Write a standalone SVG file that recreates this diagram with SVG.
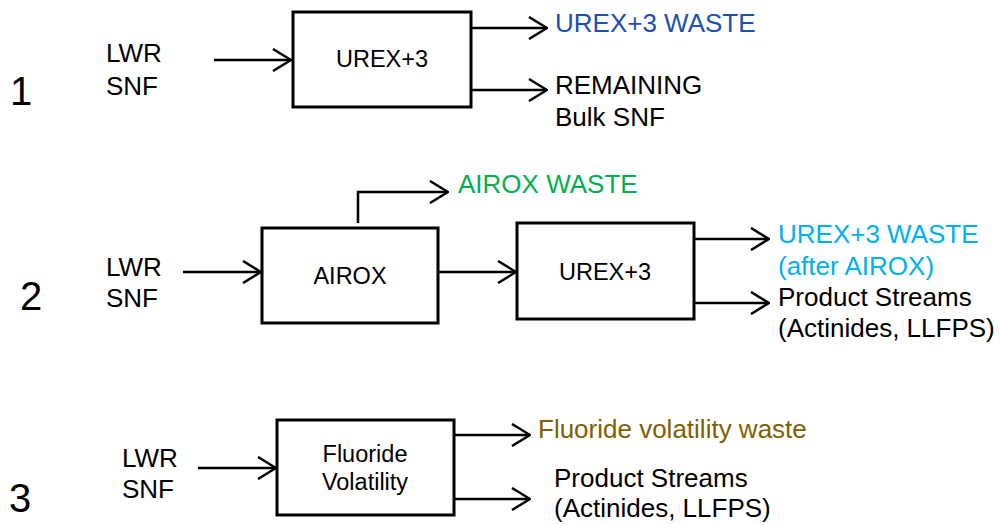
<svg xmlns="http://www.w3.org/2000/svg" width="1000" height="525" viewBox="0 0 1000 525">
<style>
text{font-family:"Liberation Sans",Arial,sans-serif;fill:#000}
.lbl{font-size:26px}
.box text{font-size:23.5px;text-anchor:middle}
.num{font-size:40px}
.box rect{fill:#fff;stroke:#000;stroke-width:3}
.conn path{fill:none;stroke:#000;stroke-width:2.5;marker-end:url(#arr)}
</style>
<defs>
<marker id="arr" viewBox="0 0 20 24" refX="19" refY="12" markerWidth="20" markerHeight="24" markerUnits="userSpaceOnUse" orient="auto">
<path d="M1,1 L19,12 L1,23" fill="none" stroke="#000" stroke-width="2.5"/>
</marker>
</defs>
<g id="numbers">
<text class="num" x="10" y="105">1</text>
<text class="num" x="20" y="310">2</text>
<text class="num" x="9" y="512">3</text>
</g>
<g id="input1"><text class="lbl" x="106" y="62">LWR</text><text class="lbl" x="106" y="95">SNF</text></g>
<g id="input2"><text class="lbl" x="106" y="276">LWR</text><text class="lbl" x="106" y="307">SNF</text></g>
<g id="input3"><text class="lbl" x="122" y="467">LWR</text><text class="lbl" x="122" y="498">SNF</text></g>
<g id="urex1" class="box"><rect x="293" y="12" width="178" height="95"/><text x="382" y="67">UREX+3</text></g>
<g id="airox" class="box"><rect x="262" y="228" width="176" height="95"/><text x="350" y="284">AIROX</text></g>
<g id="urex2" class="box"><rect x="517" y="223" width="177" height="96"/><text x="605" y="280">UREX+3</text></g>
<g id="fluoride" class="box"><rect x="277" y="420" width="177" height="95"/><text x="365" y="462">Fluoride</text><text x="365" y="490">Volatility</text></g>
<g id="out1a"><text class="lbl" x="555" y="32" style="fill:#1C4FB0">UREX+3 WASTE</text></g>
<g id="out1b"><text class="lbl" x="555" y="94">REMAINING</text><text class="lbl" x="555" y="126">Bulk SNF</text></g>
<g id="airoxwaste"><text class="lbl" x="458" y="193" style="fill:#00B050">AIROX WASTE</text></g>
<g id="out2a"><text class="lbl" x="778" y="243" style="fill:#00B0F0">UREX+3 WASTE</text><text class="lbl" x="778" y="275" style="fill:#00B0F0">(after AIROX)</text></g>
<g id="out2b"><text class="lbl" x="778" y="306">Product Streams</text><text class="lbl" x="778" y="337">(Actinides, LLFPS)</text></g>
<g id="out3a"><text class="lbl" x="538" y="438" style="fill:#7F6000">Fluoride volatility waste</text></g>
<g id="out3b"><text class="lbl" x="554" y="487">Product Streams</text><text class="lbl" x="554" y="517">(Actinides, LLFPS)</text></g>
<g id="connectors" class="conn">
<path d="M214,60 H291"/>
<path d="M471,28 H547"/>
<path d="M471,90 H547"/>
<path d="M183,272 H261"/>
<path d="M358,223 V192 H448"/>
<path d="M438,272 H516"/>
<path d="M694,239 H769"/>
<path d="M694,303 H769"/>
<path d="M198,468 H276"/>
<path d="M454,435 H530"/>
<path d="M454,499 H530"/>
</g>
</svg>
